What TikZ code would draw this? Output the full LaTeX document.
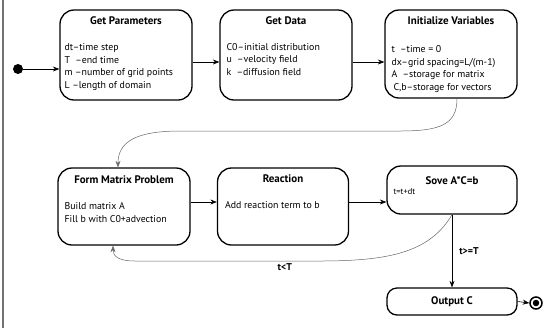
\documentclass[tikz,border=0pt]{standalone}
\usepackage{fontspec}
\setmainfont{PT Sans}
\usetikzlibrary{arrows.meta,positioning,calc}

\begin{document}
\begin{tikzpicture}[
  x=1bp, y=-1bp, >={Stealth[length=6.5bp,width=5bp]},
  font=\fontsize{9.9}{12.6}\selectfont,
  st/.style={draw, line width=1.3bp, rounded corners=14bp, minimum width=132bp,
             minimum height=90bp, inner sep=0pt},
  ttl/.style={font=\fontsize{11}{13}\selectfont\bfseries, inner sep=0pt, anchor=north},
  body/.style={align=left, inner sep=0pt, anchor=north west},
  flow/.style={->, line width=0.6bp},
  back/.style={->, draw=black!60, line width=0.5bp},
  elab/.style={font=\fontsize{9.9}{11}\selectfont\bfseries, inner sep=1pt},
]
  \useasboundingbox (0,0) rectangle (549,328);
  \draw[black!55, line width=1.5bp] (3,0) -- (3,328);

  % top row
  \node[circle, fill, minimum size=10bp, inner sep=0pt] (start) at (18,69) {};
  \node[st] (gp) at (126,55) {};
  \node[ttl] (gpt) at ([yshift=-7bp]gp.north) {Get Parameters};
  \node[body] (gpb) at ([xshift=5bp, yshift=-34bp]gp.north west)
    {dt--time step\\T \ --end time\\m --number of grid points\\L --length of domain};

  \node[st] (gd) at (286,55) {};
  \node[ttl] (gdt) at ([yshift=-7bp]gd.north) {Get Data};
  \node[body] (gdb) at ([xshift=7bp, yshift=-33.5bp]gd.north west)
    {C0--initial distribution\\u \ --velocity field\\k \ --diffusion field};

  \node[st, minimum height=88bp] (iv) at (451,54) {};
  \node[ttl] (ivt) at ([yshift=-7.5bp]iv.north) {Initialize Variables};
  \node[body] (ivb) at ([xshift=7bp, yshift=-36bp]iv.north west)
    {t \ --time = 0\\dx--grid spacing=L/(m-1)\\A \ --storage for matrix\\
     \hspace*{2bp}C,b--storage for vectors};

  % bottom row
  \node[st, minimum height=77bp] (fm) at (124,206.5) {};
  \node[ttl] (fmt) at ([yshift=-8bp]fm.north) {Form Matrix Problem};
  \node[body] (fmb) at ([xshift=7bp, yshift=-35bp]fm.north west)
    {Build matrix A\\Fill b with C0+advection};

  \node[st, minimum width=131bp, minimum height=77bp] (re) at (283,206.5) {};
  \node[ttl] (ret) at ([yshift=-7bp]re.north) {Reaction};
  \node[body] (reb) at ([xshift=8bp, yshift=-34bp]re.north west)
    {Add reaction term to b};

  \node[st, minimum width=130bp, minimum height=48bp] (so) at (452,190) {};
  \node[ttl] (sot) at ([yshift=-11bp]so.north) {Sove A*C=b};
  \node[body, font=\fontsize{8.5}{10}\selectfont] (sob) at ([xshift=7bp, yshift=-23bp]so.north west)
    {t=t+dt};

  \node[st, minimum width=130bp, minimum height=27bp, rounded corners=10bp,
        font=\fontsize{11}{13}\selectfont\bfseries] (out) at (452,301.5) {Output C};
  \node[circle, draw, line width=1.5bp, minimum size=12bp, inner sep=0pt] (stop) at (536,303) {};
  \node[circle, fill, minimum size=6.5bp, inner sep=0pt] (stopdot) at (stop) {};

  \draw[flow] (start) -- (start -| gp.west);
  \draw[flow] ([yshift=-7bp]gp.east) -- ([yshift=-7bp]gd.west);
  \draw[flow] ([yshift=-7bp]gd.east) -- ([yshift=-7bp]gd.east -| iv.west);
  \draw[back] ([xshift=6bp]iv.south) .. controls +(0,26) and +(40,0) .. (400,131)
    -- (180,131) .. controls +(-45,0) and +(0,-25) .. ([xshift=-6bp]fm.north);
  \draw[flow] ([yshift=4.5bp]fm.east) -- ([yshift=4.5bp]re.west);
  \draw[flow] ([yshift=4.5bp]re.east) -- ([yshift=4.5bp]re.east -| so.west);
  \draw[flow] (so.south) -- node[elab, right=6bp] {t>=T} (out.north);
  \draw[back] (so.south) .. controls (430,252) and (390,261) .. (320,261)
    -- node[elab, below=1bp, pos=0.19] {t<T} (135,261)
    .. controls (118,261) and (113,256) .. ([xshift=-11bp]fm.south);
  \draw[flow] (out.east) -- (stop.west);
\end{tikzpicture}
\end{document}
